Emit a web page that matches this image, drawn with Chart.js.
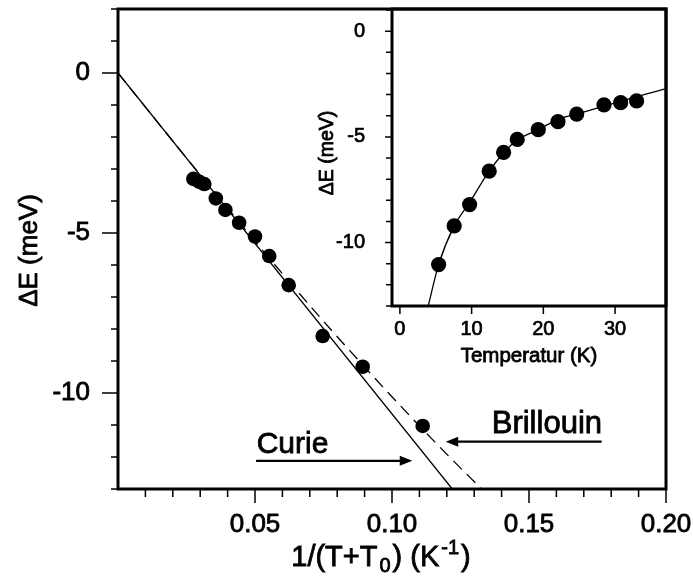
<!DOCTYPE html>
<html>
<head>
<meta charset="utf-8">
<script src="https://cdn.jsdelivr.net/npm/chart.js@4.4.1/dist/chart.umd.min.js"></script>
<style>
  html, body { margin:0; padding:0; background:#fff; }
  #wrap { position:relative; width:693px; height:576px; }
  #mainChart { position:absolute; left:0; top:0; }
  #insetChart { position:absolute; left:300px; top:0; }
</style>
</head>
<body>
<div id="wrap">
  <canvas id="mainChart" width="693" height="576"></canvas>
  <canvas id="insetChart" width="380" height="380"></canvas>
</div>
<script>
// main panel: measured shifts vs 1/(T+T0)
const invT   = [0.0275, 0.0297, 0.0315, 0.0357, 0.0392, 0.0442, 0.0500, 0.0552, 0.0623, 0.0747, 0.0893, 0.1112];
const deltaE = [-3.31, -3.40, -3.47, -3.92, -4.28, -4.68, -5.11, -5.72, -6.63, -8.22, -9.18, -11.03];
// Curie law: straight line through the origin
const curieX = [0, 0.122];
const curieY = [0, -13];
// Brillouin fit (dashed)
const brillX = [0, 0.0188, 0.0378, 0.0573, 0.0775, 0.0880, 0.0987, 0.1097, 0.1210, 0.1327];
const brillY = [0, -2, -4, -6, -8, -9, -10, -11, -12, -13];

// inset: same points vs temperature
const temps  = [5.40, 7.57, 9.72, 12.45, 14.46, 16.36, 19.29, 22.04, 24.65, 28.45, 30.78, 33.0];
const insetE = [-11.04, -9.21, -8.20, -6.62, -5.73, -5.12, -4.66, -4.28, -3.92, -3.49, -3.38, -3.30];
const fitT   = [3.95, 5.40, 7.57, 9.72, 12.45, 14.46, 16.36, 19.29, 22.04, 24.65, 28.45, 33.0, 37.1];
const fitE   = [-13, -11.04, -9.21, -8.10, -6.62, -5.76, -5.15, -4.66, -4.17, -3.92, -3.55, -3.10, -2.72];

// tick values
const mainXMajor = [0.05, 0.10, 0.15, 0.20];
const mainXMinor = [0.01, 0.02, 0.03, 0.04, 0.06, 0.07, 0.08, 0.09, 0.11, 0.12, 0.13, 0.14, 0.16, 0.17, 0.18, 0.19];
const mainYMajor = [0, -5, -10];
const mainYMinor = [2, 1, -1, -2, -3, -4, -6, -7, -8, -9, -11, -12, -13];
const insetXMajor = [0, 10, 20, 30];
const insetYMajor = [0, -5, -10];
const insetYMinor = [1, -1, -2, -3, -4, -6, -7, -8, -9, -11, -12, -13];

// annotations
const noteText = ['Curie', 'Brillouin'];
const noteX = [0.0506, 0.1364];
const noteY = [-11.875, -11.25];
const noteSize = [30, 31];
const arrowFrom = [0.0504, 0.1765];
const arrowTo = [0.1074, 0.1196];
const arrowY = [-12.12, -11.52];

const FONT = '"Liberation Sans", Arial, Helvetica, sans-serif';
const pts = (xs, ys) => xs.map((x, i) => ({x: x, y: ys[i]}));

// heavy text like the scanned original: fill plus a thin stroke
function heavyText(ctx, txt, x, y){
    ctx.fillText(txt, x, y);
    ctx.lineWidth = 0.8;
    ctx.strokeText(txt, x, y);
}

function framePlugin(t){
    return {
        id: 'frame',
        afterDraw(chart){
            const {ctx, chartArea: a, scales: {x, y}} = chart;
            ctx.save();
            ctx.strokeStyle = '#000';
            ctx.fillStyle = '#000';
            ctx.lineWidth = 1.5;
            ctx.beginPath();
            const xt = (vals, len) => vals.forEach(v => { const p = x.getPixelForValue(v); ctx.moveTo(p, a.bottom); ctx.lineTo(p, a.bottom + len); });
            const yt = (vals, len) => vals.forEach(v => { const p = y.getPixelForValue(v); ctx.moveTo(a.left, p); ctx.lineTo(a.left - len, p); });
            xt(t.xMajor, t.xMajorLen); xt(t.xMinor, t.xMinorLen);
            yt(t.yMajor, t.yMajorLen); yt(t.yMinor, t.yMinorLen);
            ctx.stroke();
            ctx.lineWidth = 3;
            ctx.strokeRect(a.left, a.top, a.right - a.left, a.bottom - a.top);
            // y axis title, rotated
            if (t.yTitle) {
                ctx.save();
                ctx.font = t.yTitleSize + 'px ' + FONT;
                ctx.textAlign = 'center';
                ctx.textBaseline = 'middle';
                ctx.translate(t.yTitleX, (a.top + a.bottom) / 2 + t.yTitleShift);
                ctx.rotate(-Math.PI / 2);
                heavyText(ctx, t.yTitle, 0, 0);
                ctx.restore();
            }
            if (t.xTitle) {
                ctx.font = t.xTitleSize + 'px ' + FONT;
                ctx.textAlign = 'center';
                ctx.textBaseline = 'alphabetic';
                heavyText(ctx, t.xTitle, (a.left + a.right) / 2, a.bottom + t.xTitleDrop);
            }
            ctx.restore();
        }
    };
}

const notesPlugin = {
    id: 'notes',
    afterDraw(chart){
        const {ctx, chartArea: a, scales: {x, y}} = chart;
        ctx.save();
        ctx.fillStyle = '#000';
        ctx.strokeStyle = '#000';
        ctx.textBaseline = 'alphabetic';
        ctx.textAlign = 'left';
        noteText.forEach((txt, i) => {
            ctx.font = noteSize[i] + 'px ' + FONT;
            heavyText(ctx, txt, x.getPixelForValue(noteX[i]), y.getPixelForValue(noteY[i]));
            const x0 = x.getPixelForValue(arrowFrom[i]), x1 = x.getPixelForValue(arrowTo[i]);
            const py = y.getPixelForValue(arrowY[i]);
            const dir = x1 > x0 ? 1 : -1;
            ctx.lineWidth = 2.2;
            ctx.beginPath();
            ctx.moveTo(x0, py); ctx.lineTo(x1 - dir * 10, py);
            ctx.stroke();
            ctx.beginPath();
            ctx.moveTo(x1, py);
            ctx.lineTo(x1 - dir * 12.5, py - 5);
            ctx.lineTo(x1 - dir * 12.5, py + 5);
            ctx.closePath();
            ctx.fill();
        });
        // x axis title with subscript / superscript
        const parts = [['1/(T+T', 0], ['0', 1], [') (K', 0], ['-1', -1], [')', 0]];
        const big = '29px ' + FONT, small = '20px ' + FONT;
        const gap = 2;
        let w = 0;
        parts.forEach(p => { ctx.font = p[1] ? small : big; w += ctx.measureText(p[0]).width + (p[1] ? 2 * gap : 0); });
        let cx = (a.left + a.right) / 2 - 11 - w / 2;
        const base = a.bottom + 77;
        parts.forEach(p => {
            ctx.font = p[1] ? small : big;
            if (p[1]) cx += gap;
            heavyText(ctx, p[0], cx, base + (p[1] === 1 ? 6 : p[1] === -1 ? -12 : 0));
            cx += ctx.measureText(p[0]).width + (p[1] ? gap : 0);
        });
        ctx.restore();
    }
};

// keep the plot box where the original has it
const noPad = s => { s.paddingTop = 0; s.paddingBottom = 0; s.paddingLeft = 0; s.paddingRight = 0; };

new Chart(document.getElementById('mainChart'), {
    type: 'scatter',
    data: {
        datasets: [
            {data: pts(invT, deltaE), pointRadius: 7.3, pointBackgroundColor: '#000', pointBorderWidth: 0, showLine: false},
            {data: pts(curieX, curieY), showLine: true, pointRadius: 0, borderColor: '#000', borderWidth: 1.3},
            {data: pts(brillX, brillY), showLine: true, pointRadius: 0, borderColor: '#000', borderWidth: 1.3, borderDash: [12, 7], cubicInterpolationMode: 'monotone'}
        ]
    },
    options: {
        responsive: false,
        animation: false,
        events: [],
        layout: {autoPadding: false, padding: {left: 0, top: 9, right: 27, bottom: 0}},
        plugins: {legend: {display: false}, tooltip: {enabled: false}},
        scales: {
            x: {
                type: 'linear', min: 0, max: 0.2,
                grid: {display: false, drawTicks: false}, border: {display: false},
                afterBuildTicks: s => { s.ticks = mainXMajor.map(v => ({value: v})); },
                afterFit: s => { s.height = 87; noPad(s); },
                ticks: {autoSkip: false, maxRotation: 0, padding: 20, color: '#000', textStrokeColor: '#000', textStrokeWidth: 0.8,
                    font: {family: FONT, size: 26}, callback: v => v.toFixed(2)}
            },
            y: {
                type: 'linear', min: -13, max: 2,
                grid: {display: false, drawTicks: false}, border: {display: false},
                afterBuildTicks: s => { s.ticks = mainYMajor.map(v => ({value: v})); },
                afterFit: s => { s.width = 118; noPad(s); },
                ticks: {autoSkip: false, padding: 28, color: '#000', textStrokeColor: '#000', textStrokeWidth: 0.8,
                    font: {family: FONT, size: 26}, callback: v => String(v)}
            }
        }
    },
    plugins: [framePlugin({xMajor: mainXMajor, xMinor: mainXMinor, yMajor: mainYMajor, yMinor: mainYMinor,
        xMajorLen: 14, xMinorLen: 8, yMajorLen: 16, yMinorLen: 7,
        yTitle: 'ΔE (meV)', yTitleSize: 26, yTitleX: 30, yTitleShift: 1.5}), notesPlugin]
});

new Chart(document.getElementById('insetChart'), {
    type: 'scatter',
    data: {
        datasets: [
            {data: pts(temps, insetE), pointRadius: 7.6, pointBackgroundColor: '#000', pointBorderWidth: 0, showLine: false},
            {data: pts(fitT, fitE), showLine: true, pointRadius: 0, borderColor: '#000', borderWidth: 1.3, cubicInterpolationMode: 'monotone'}
        ]
    },
    options: {
        responsive: false,
        animation: false,
        events: [],
        layout: {autoPadding: false, padding: {left: 0, top: 9, right: 14, bottom: 0}},
        plugins: {legend: {display: false}, tooltip: {enabled: false}},
        scales: {
            x: {
                type: 'linear', min: -1.1, max: 37.1,
                grid: {display: false, drawTicks: false}, border: {display: false},
                afterBuildTicks: s => { s.ticks = insetXMajor.map(v => ({value: v})); },
                afterFit: s => { s.height = 74; noPad(s); },
                ticks: {autoSkip: false, maxRotation: 0, padding: 11, color: '#000', textStrokeColor: '#000', textStrokeWidth: 0.7,
                    font: {family: FONT, size: 20}, callback: v => String(v)}
            },
            y: {
                type: 'linear', min: -13, max: 1.05,
                grid: {display: false, drawTicks: false}, border: {display: false},
                afterBuildTicks: s => { s.ticks = insetYMajor.map(v => ({value: v})); },
                afterFit: s => { s.width = 92; noPad(s); },
                ticks: {autoSkip: false, padding: 27, color: '#000', textStrokeColor: '#000', textStrokeWidth: 0.7,
                    font: {family: FONT, size: 20}, callback: v => String(v)}
            }
        }
    },
    plugins: [framePlugin({xMajor: insetXMajor, xMinor: [], yMajor: insetYMajor, yMinor: insetYMinor,
        xMajorLen: 8, xMinorLen: 0, yMajorLen: 7, yMinorLen: 6,
        yTitle: 'ΔE (meV)', yTitleSize: 19.5, yTitleX: 28, yTitleShift: -4.5,
        xTitle: 'Temperatur (K)', xTitleSize: 20.5, xTitleDrop: 56})]
});
</script>
</body>
</html>
